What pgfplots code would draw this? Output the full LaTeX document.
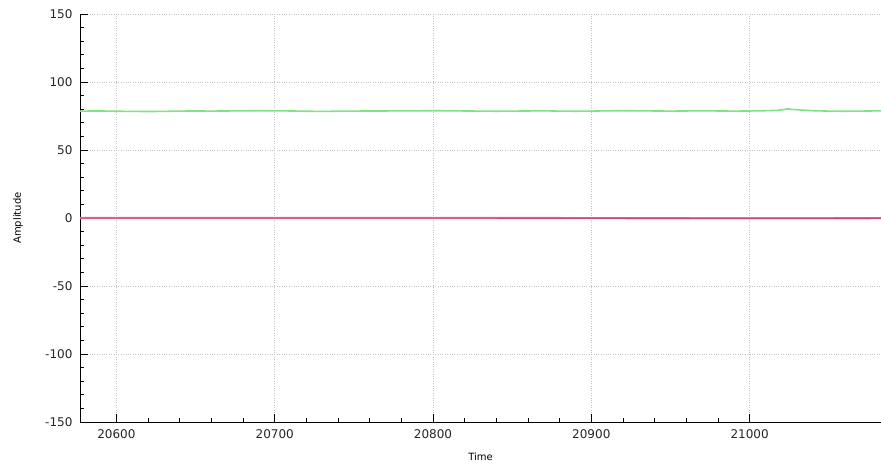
\documentclass[border=0pt]{standalone}
\usepackage{fontspec}
\setmainfont{DejaVu Sans}
\usepackage{pgfplots}
\pgfplotsset{compat=1.18}
\definecolor{greenl}{RGB}{128,226,128}
\definecolor{redl}{RGB}{214,48,96}
\begin{document}
\begin{tikzpicture}[x=1pt,y=1pt]
\path[use as bounding box] (0,0) rectangle (881,466);
\begin{axis}[
  at={(80pt,44pt)}, anchor=south west,
  scale only axis, width=801pt, height=408pt,
  xmin=20577, xmax=21083, ymin=-150, ymax=150,
  axis lines*=left,
  xtick={20600,20700,20800,20900,21000},
  ytick={-150,-100,-50,0,50,100,150},
  scaled x ticks=false,
  xticklabel style={/pgf/number format/fixed, /pgf/number format/precision=0, yshift=-4pt},
  yticklabel style={xshift=-4pt},
  minor x tick num=4, minor y tick num=4,
  tick align=inside,
  major tick length=8pt, minor tick length=4pt,
  every tick/.style={black, line width=0.9pt},
  axis line style={black, line width=0.9pt},
  grid=major,
  major grid style={gray!45, dotted, line width=0.6pt},
  tick label style={font=\fontsize{12}{14}\selectfont, text=black!85},
  /pgf/number format/assume math mode=true,
  /pgf/number format/1000 sep={},
  xlabel={Time}, ylabel={Amplitude},
  label style={font=\fontsize{10}{12}\selectfont},
  xlabel style={at={(axis description cs:0.5,0)}, anchor=center, yshift=-35pt},
  ylabel style={at={(axis description cs:0,0.5)}, anchor=center, yshift=62pt},
  clip=true,
]
\addplot[greenl, line width=1.6pt] coordinates {
(20577,78.6) (20590,78.7) (20600,78.5) (20610,78.4) (20620,78.3) (20630,78.4) (20640,78.6) (20650,78.7)
(20660,78.6) (20670,78.7) (20680,78.8) (20690,78.9) (20700,78.8) (20710,78.7) (20720,78.5) (20730,78.4)
(20740,78.5) (20750,78.6) (20760,78.7) (20770,78.7) (20780,78.8) (20790,78.8) (20800,78.9) (20810,78.8)
(20820,78.7) (20830,78.6) (20840,78.5) (20850,78.6) (20860,78.7) (20870,78.8) (20880,78.6) (20890,78.5)
(20900,78.6) (20910,78.8) (20920,78.9) (20930,78.8) (20940,78.7) (20950,78.6) (20960,78.7) (20970,78.8)
(20980,78.7) (20990,78.6) (21000,78.7) (21010,78.9) (21018,79.2) (21024,80.2) (21030,79.6) (21040,78.9)
(21050,78.6) (21060,78.5) (21070,78.6) (21083,78.8)
};
\addplot[redl!60, line width=2.2pt] coordinates {(20577,0) (20800,0) (21020,-0.2) (21083,-0.1)};
\addplot[redl!90!black, line width=0.9pt] coordinates {(20577,0) (20800,0) (21020,-0.2) (21083,-0.1)};
\end{axis}
\end{tikzpicture}
\end{document}
